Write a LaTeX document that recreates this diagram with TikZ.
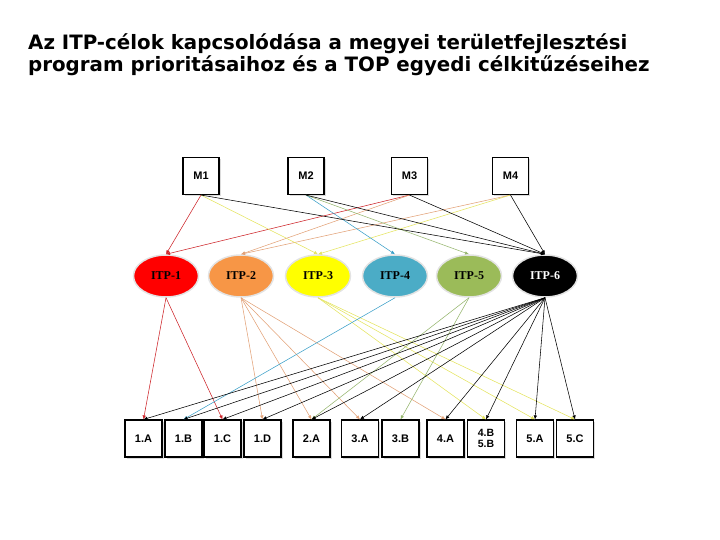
\documentclass[tikz,border=0pt]{standalone}
\usepackage{fontspec}
\setmainfont{Liberation Serif}
\setsansfont{Liberation Sans}
\newfontfamily\titlefont{DejaVu Sans}
\usetikzlibrary{shapes, arrows.meta, positioning, shadows}
\definecolor{itpred}{RGB}{255, 0, 0}
\definecolor{itporange}{RGB}{247, 150, 70}
\definecolor{itpyellow}{RGB}{255, 255, 0}
\definecolor{itpblue}{RGB}{75, 172, 198}
\definecolor{itpgreen}{RGB}{155, 187, 89}
\definecolor{linered}{RGB}{205, 35, 40}
\definecolor{linetan}{RGB}{226, 162, 120}
\definecolor{lineyellow}{RGB}{228, 228, 95}
\definecolor{lineblue}{RGB}{60, 160, 200}
\definecolor{linegreen}{RGB}{150, 182, 110}

\begin{document}
\begin{tikzpicture}[x=1pt, y=-1pt,
  mbox/.style={draw, line width=1.1pt, fill=white, minimum width=36pt, minimum height=37pt, inner sep=1pt,
    font=\sffamily\bfseries\fontsize{11}{12}\selectfont, align=center,
    drop shadow={shadow xshift=1.5pt, shadow yshift=-1.5pt, fill=gray!55}},
  itp/.style={ellipse, draw=gray!22, line width=1.5pt, minimum width=65pt, minimum height=42pt,
    font=\bfseries\fontsize{12}{14}\selectfont},
  conn/.style={-{Latex[length=4pt, width=3.5pt]}, line width=0.55pt}]

\useasboundingbox (0,0) rectangle (720,540);

% title
\node[anchor=base west, inner sep=0pt, align=left, font=\titlefont\bfseries\fontsize{19.8}{22}\selectfont] (title) at (28,72)
  {Az ITP-célok kapcsolódása a megyei területfejlesztési\\program prioritásaihoz és a TOP egyedi célkitűzéseihez};

% megyei prioritasok
\node[mbox] (m1) at (201,176) {M1};
\node[mbox] (m2) at (306,176) {M2};
\node[mbox] (m3) at (409.5,176) {M3};
\node[mbox] (m4) at (510.5,176) {M4};

% ITP-celok
\node[itp, fill=itpred] (itp1) at (166,276) {ITP-1};
\node[itp, fill=itporange] (itp2) at (241,276) {ITP-2};
\node[itp, fill=itpyellow] (itp3) at (318,276) {ITP-3};
\node[itp, fill=itpblue] (itp4) at (395,276) {ITP-4};
\node[itp, fill=itpgreen] (itp5) at (469,276) {ITP-5};
\node[itp, fill=black, text=white] (itp6) at (545,276) {ITP-6};

% TOP celkituzesek
\foreach \n/\x/\t in {t1a/143.5/1.A, t1b/183.5/1.B, t1c/222.5/1.C, t1d/262.5/1.D, t2a/311.5/2.A,
    t3a/360/3.A, t3b/400.5/3.B, t4a/445.5/4.A, t5a/535/5.A, t5c/575/5.C}
  \node[mbox, minimum width=37pt] (\n) at (\x,438.5) {\t};
\node[mbox, minimum width=37pt, font=\sffamily\bfseries\fontsize{10.5}{11.5}\selectfont] (t4b) at (486,438.5) {4.B\\5.B};

% M -> ITP
\foreach \s/\d/\c in {m1/itp1/linered, m3/itp1/linered, m3/itp2/linetan, m4/itp2/linetan,
    m1/itp3/lineyellow, m4/itp3/lineyellow, m2/itp4/lineblue, m2/itp5/linegreen,
    m1/itp6/black, m2/itp6/black, m3/itp6/black, m4/itp6/black}
  \draw[conn, \c] (\s.south) -- (\d.north);

% ITP -> TOP
\foreach \s/\d/\c in {itp1/t1a/linered, itp1/t1c/linered,
    itp2/t1d/linetan, itp2/t2a/linetan, itp2/t3a/linetan, itp2/t4a/linetan,
    itp3/t4b/lineyellow, itp3/t5a/lineyellow, itp3/t5c/lineyellow,
    itp4/t1b/lineblue, itp5/t2a/linegreen, itp5/t3b/linegreen}
  \draw[conn, \c] (\s.south) -- (\d.north);
\foreach \d in {t1a, t1b, t1c, t1d, t2a, t3a, t4a, t4b, t5a, t5c}
  \draw[conn, black] (itp6.south) -- (\d.north);
\end{tikzpicture}
\end{document}
